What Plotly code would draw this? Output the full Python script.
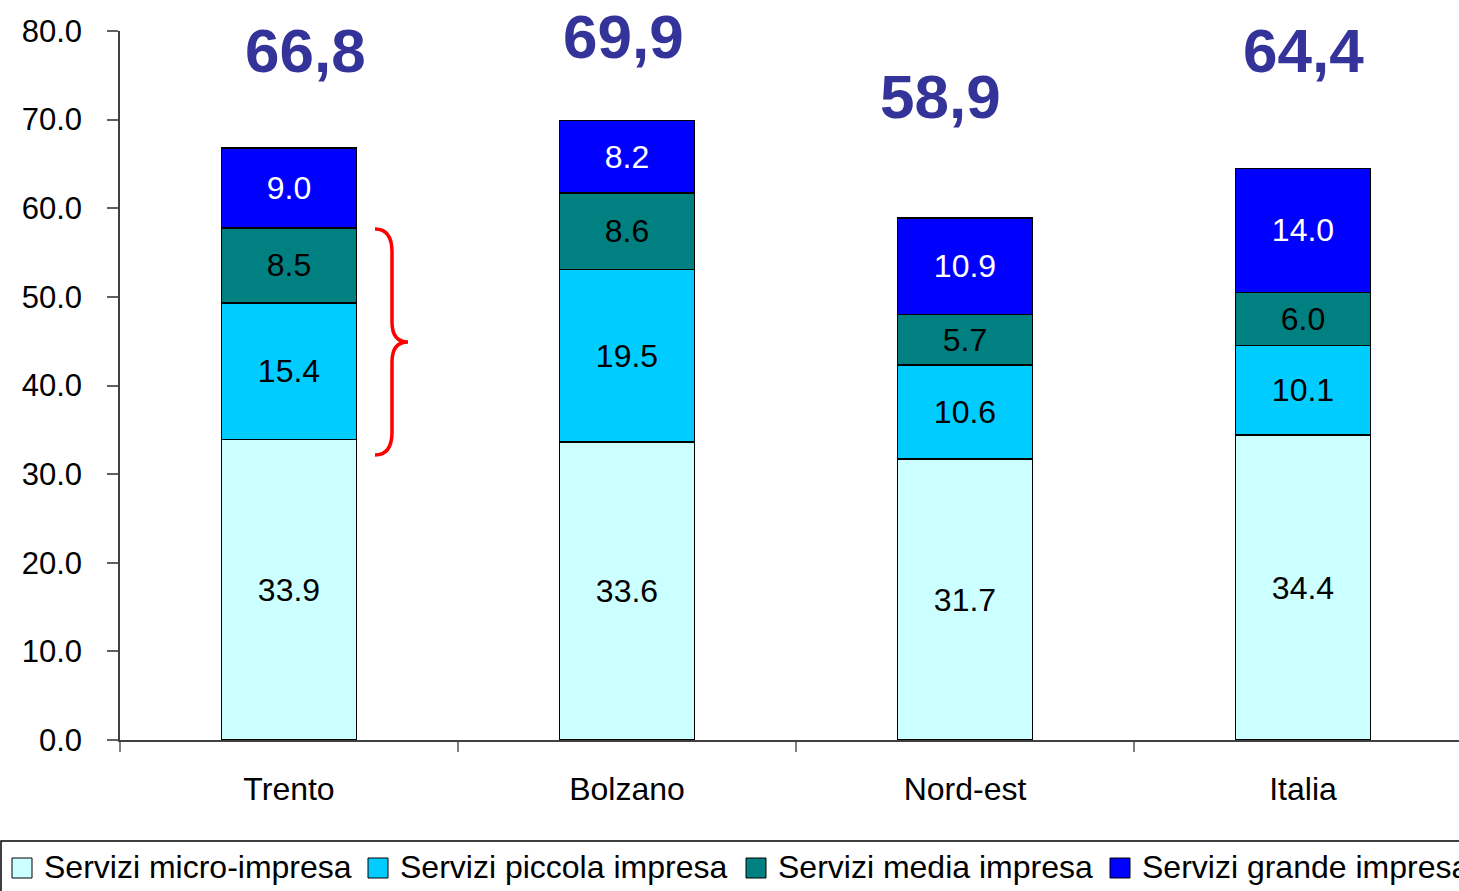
import plotly.graph_objects as go

# ---- data ----
categories = ["Trento", "Bolzano", "Nord-est", "Italia"]
series_names = ["Servizi micro-impresa", "Servizi piccola impresa",
                "Servizi media impresa", "Servizi grande impresa"]
micro = [33.9, 33.6, 31.7, 34.4]
piccola = [15.4, 19.5, 10.6, 10.1]
media = [8.5, 8.6, 5.7, 6.0]
grande = [9.0, 8.2, 10.9, 14.0]
totals = [66.8, 69.9, 58.9, 64.4]
y_ticks = [0, 10, 20, 30, 40, 50, 60, 70, 80]

# ---- styles / layout constants ----
colors = ["#CCFFFF", "#00CCFF", "#008080", "#0000FF"]
text_colors = ["black", "black", "black", "white"]
FONT = "Liberation Sans, Arial, sans-serif"
W, H = 1459, 891
ML, MR, MT, MB = 120, 0, 31, 151
PW = W - ML - MR
PH = H - MT - MB
CAT_W = 338.0

def px_x(x):
    return (x - ML) / PW

def px_y(y):
    return (H - MB - y) / PH

series = [micro, piccola, media, grande]

fig = go.Figure()
for name, vals, col, tcol in zip(series_names, series, colors, text_colors):
    fig.add_trace(go.Bar(
        x=categories, y=vals, name=name,
        marker=dict(color=col, line=dict(color="black", width=1.5)),
        texttemplate="%{y:.1f}", textposition="inside",
        insidetextanchor="middle", textangle=0, constraintext="none",
        textfont=dict(family=FONT, size=32, color=tcol),
        showlegend=False,
    ))

# total labels (positions: pixel shift and y in data units)
total_xshift = [16, -4, -25, 0]
total_y = [77.85, 79.35, 72.65, 77.85]
for c, t, xs, yy in zip(categories, totals, total_xshift, total_y):
    fig.add_annotation(x=c, y=yy, xref="x", yref="y", xshift=xs,
                       text=f"{t:.1f}".replace(".", ","), showarrow=False,
                       font=dict(family=FONT, size=62, color="#333399", weight="bold"),
                       xanchor="center", yanchor="middle")

# red brace
bx0, bx1, bx2 = px_x(375), px_x(392), px_x(408)
def yv(p):
    return (H - MB - p) / PH * 80
path = (f"M {bx0},{yv(229)} Q {bx1},{yv(229)} {bx1},{yv(252)} "
        f"L {bx1},{yv(322)} Q {bx1},{yv(342)} {bx2},{yv(342)} "
        f"Q {bx1},{yv(342)} {bx1},{yv(362)} "
        f"L {bx1},{yv(432)} Q {bx1},{yv(455)} {bx0},{yv(455)}")
fig.add_shape(type="path", path=path, xref="paper", yref="y",
              line=dict(color="#FF0000", width=3.5))

# manual legend (box clipped at right edge like the reference)
fig.add_shape(type="rect", xref="paper", yref="paper",
              x0=px_x(1), x1=px_x(1475), y0=px_y(841), y1=px_y(905),
              line=dict(color="black", width=1.5), fillcolor="rgba(0,0,0,0)")
sq_left = [12, 368, 746, 1110]
for name, col, sx in zip(series_names, colors, sq_left):
    fig.add_shape(type="rect", xref="paper", yref="paper",
                  x0=px_x(sx), x1=px_x(sx + 20), y0=px_y(878), y1=px_y(858),
                  fillcolor=col, line=dict(color="black", width=1))
    fig.add_annotation(x=px_x(sx + 30), y=px_y(867), xref="paper", yref="paper",
                       text=name, showarrow=False, xanchor="left", yanchor="middle",
                       font=dict(family=FONT, size=32, color="black"))

fig.update_layout(
    width=W, height=H, barmode="stack", bargap=0.6,
    margin=dict(l=ML, r=MR, t=MT, b=MB),
    paper_bgcolor="white", plot_bgcolor="white",
    font=dict(family=FONT, size=32, color="black"),
)
fig.update_xaxes(range=[-0.5, -0.5 + PW / CAT_W], tickson="boundaries",
                 ticks="outside", ticklen=10, tickwidth=2, tickcolor="#808080",
                 showline=True, linecolor="#404040", linewidth=1.5,
                 showgrid=False, ticklabelstandoff=20,
                 tickfont=dict(family=FONT, size=32, color="black"))
fig.update_yaxes(range=[0, 80], tickvals=y_ticks,
                 ticktext=[f"{v:.1f}" for v in y_ticks],
                 ticks="outside", ticklen=11, tickwidth=1.5, tickcolor="#606060",
                 showline=True, linecolor="#404040", linewidth=1.5,
                 showgrid=False, zeroline=False, ticklabelstandoff=19,
                 tickfont=dict(family=FONT, size=31, color="black"))

fig.write_html("out.html", config={"displayModeBar": False},
               post_script="document.body.style.margin='0px';document.body.style.overflow='hidden';")
